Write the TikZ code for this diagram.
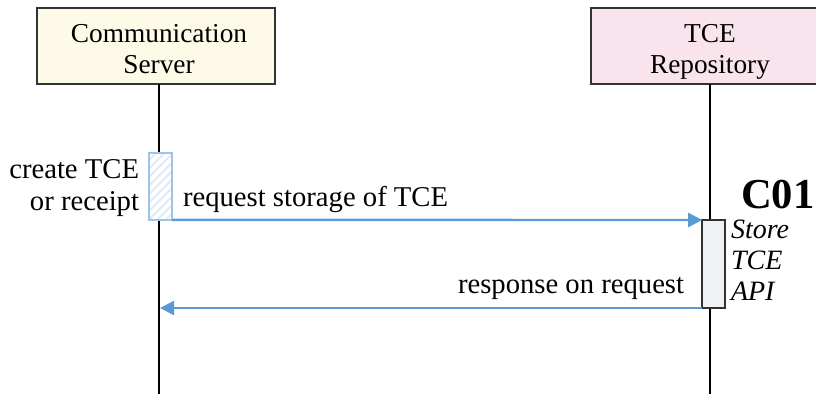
\documentclass[tikz,border=0pt]{standalone}
\usepackage{fontspec}
\setmainfont{Liberation Serif}
\usetikzlibrary{arrows.meta,patterns.meta}
\definecolor{boxyellow}{HTML}{FDFBE7}
\definecolor{boxpink}{HTML}{F9E3EC}
\definecolor{msgblue}{HTML}{5B9BD5}
\definecolor{actblue}{HTML}{9DC3E6}
\definecolor{hatch}{HTML}{DCEAF7}
\definecolor{actgray}{HTML}{F0F1F3}
\definecolor{edge}{HTML}{333333}
\begin{document}
\begin{tikzpicture}[x=0.75pt,y=-0.75pt,
  every node/.style={font=\fontsize{21.5}{24}\selectfont, inner sep=0pt, outer sep=0pt},
  actor/.style={draw=edge, line width=1.3pt, minimum height=57pt, align=center},
  lifeline/.style={draw=black, line width=1.3pt},
  msg/.style={draw=msgblue, line width=1.8pt, -{Triangle[length=10.5pt,width=10.5pt]}},
  label/.style={anchor=base west},
  actcs/.style={draw=actblue, line width=1.1pt, preaction={fill=white}, pattern={Lines[angle=45,distance=4.5pt,line width=1.3pt]}, pattern color=hatch, minimum width=17pt, minimum height=50pt},
  acttr/.style={draw=edge, line width=1.1pt, fill=actgray, minimum width=17pt, minimum height=66pt}
]
\useasboundingbox (0,0) rectangle (816,394);
\clip (0,0) rectangle (816,394);
% actors
\node[actor, fill=boxyellow, minimum width=178.5pt] (cs) at (156,46) {};
\node[actor, fill=boxpink, minimum width=178.5pt] (tr) at (710,46) {};
\node[anchor=base, font=\fontsize{20.5}{24}\selectfont] (cs1) at (159,42) {Communication};
\node[anchor=base, font=\fontsize{20.5}{24}\selectfont] (cs2) at (159,73) {Server};
\node[anchor=base, font=\fontsize{20.5}{24}\selectfont] (tr1) at (710,42) {TCE};
\node[anchor=base, font=\fontsize{20.5}{24}\selectfont] (tr2) at (710,73) {Repository};
% lifelines
\coordinate (csend) at (159,394);
\coordinate (trend) at (710,394);
\draw[lifeline] (159,84) -- (csend);
\draw[lifeline] (710,84) -- (trend);
% activations
\node[actcs] (a1) at (160.5,186.5) {};
\node[acttr] (a2) at (713.5,264) {};
% messages
\draw[msg] (a1.south east) -- (a2.north west);
\coordinate (ret) at (160,308);
\draw[msg] (a2.south west) -- (ret);
% labels
\node[label] (m1) at (183,206) {request storage of TCE};
\node[label] (m2) at (458,293) {response on request};
\node[anchor=base east] (c1) at (139,178) {create TCE};
\node[anchor=base east] (c2) at (139,210) {or receipt};
\node[anchor=base west, font=\fontsize{32}{36}\bfseries\selectfont] (c01) at (741,208) {C01};
\node[label, font=\fontsize{21}{24}\itshape\selectfont] (s1) at (731,238) {Store};
\node[label, font=\fontsize{21}{24}\itshape\selectfont] (s2) at (731,269) {TCE};
\node[label, font=\fontsize{21}{24}\itshape\selectfont] (s3) at (731,300) {API};
\end{tikzpicture}
\end{document}
